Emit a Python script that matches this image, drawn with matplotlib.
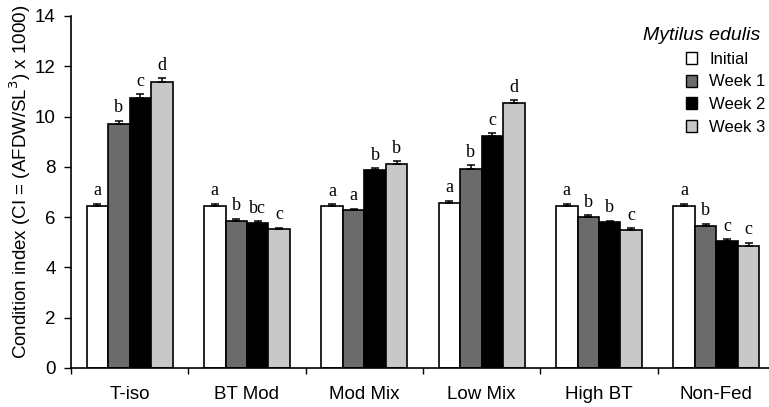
import matplotlib
matplotlib.use("Agg")
import matplotlib.pyplot as plt
import numpy as np
from matplotlib.patches import Patch

groups = ["T-iso", "BT Mod", "Mod Mix", "Low Mix", "High BT", "Non-Fed"]
series = ["Initial", "Week 1", "Week 2", "Week 3"]
initial = [6.46, 6.46, 6.43, 6.58, 6.45, 6.45]
week1 = [9.69, 5.86, 6.27, 7.90, 6.00, 5.66]
week2 = [10.75, 5.77, 7.89, 9.24, 5.79, 5.06]
week3 = [11.39, 5.51, 8.13, 10.53, 5.50, 4.84]
err_initial = [0.08, 0.08, 0.08, 0.08, 0.08, 0.08]
err_week1 = [0.15, 0.08, 0.07, 0.17, 0.07, 0.08]
err_week2 = [0.15, 0.06, 0.05, 0.10, 0.07, 0.07]
err_week3 = [0.13, 0.07, 0.10, 0.12, 0.05, 0.15]
letters_initial = ["a", "a", "a", "a", "a", "a"]
letters_week1 = ["b", "b", "a", "b", "b", "b"]
letters_week2 = ["c", "bc", "b", "c", "b", "c"]
letters_week3 = ["d", "c", "b", "d", "c", "c"]

values = [initial, week1, week2, week3]
errors = [err_initial, err_week1, err_week2, err_week3]
letters = [letters_initial, letters_week1, letters_week2, letters_week3]
colors = ["#ffffff", "#6b6b6b", "#000000", "#c8c8c8"]

fig = plt.figure(figsize=(7.69, 4.07), dpi=100)
ax = fig.add_axes([71/769, 39/407, 704/769, 352/407])

sans = "Liberation Sans"
serif = "Liberation Serif"

bw = 0.183
x = np.arange(len(groups)) + 0.5
for i in range(4):
    xs = x + (i - 1.5) * bw
    ax.bar(xs, values[i], width=bw, color=colors[i], edgecolor="black",
           linewidth=1.2, zorder=2)
    ax.errorbar(xs, values[i], yerr=[np.zeros(len(groups)), errors[i]],
                fmt="none", ecolor="black", elinewidth=1.1, capsize=2.6,
                capthick=1.1, zorder=3)
    for xx, v, e, t in zip(xs, values[i], errors[i], letters[i]):
        ax.annotate(t, (xx, v + e), xytext=(0, 6), textcoords="offset points",
                    ha="center", va="baseline", fontsize=13, family=serif)

ax.set_xlim(0, 6)
ax.set_ylim(0, 14)
ax.set_yticks(range(0, 15, 2))
ax.set_yticklabels([str(v) for v in range(0, 15, 2)], family=sans, fontsize=13.5)
ax.set_xticks(range(0, 7))
ax.set_xticklabels([])
ax.set_xticks(x, minor=True)
ax.set_xticklabels(groups, minor=True, family=sans, fontsize=13.5)
ax.tick_params(axis="x", which="minor", length=0, pad=13)
ax.tick_params(axis="x", which="major", length=4, width=1, direction="out")
ax.tick_params(axis="y", length=5, width=1, direction="out", pad=6)
ax.spines["top"].set_visible(False)
ax.spines["right"].set_visible(False)
ax.spines["left"].set_linewidth(1.2)
ax.spines["bottom"].set_linewidth(1.2)

ax.set_ylabel("Condition index (CI = (AFDW/SL$^3$) x 1000)", family=sans,
              fontsize=13.5)
ax.yaxis.set_label_coords(-38/704, 0.5 + 10/352)

fig.text(760/769, 1 - 35/407, "Mytilus edulis", family=sans, style="italic",
         fontsize=14, ha="right", va="center")
handles = [Patch(facecolor=c, edgecolor="black", linewidth=1.0) for c in colors]
leg = fig.legend(handles, series, loc="upper left",
                 bbox_to_anchor=(686/769, 1 - 52/407), frameon=False,
                 prop={"family": sans, "size": 12}, handlelength=0.65,
                 handleheight=0.75, handletextpad=0.75, labelspacing=0.45,
                 borderpad=0, borderaxespad=0)

fig.savefig("out.png", dpi=100)
